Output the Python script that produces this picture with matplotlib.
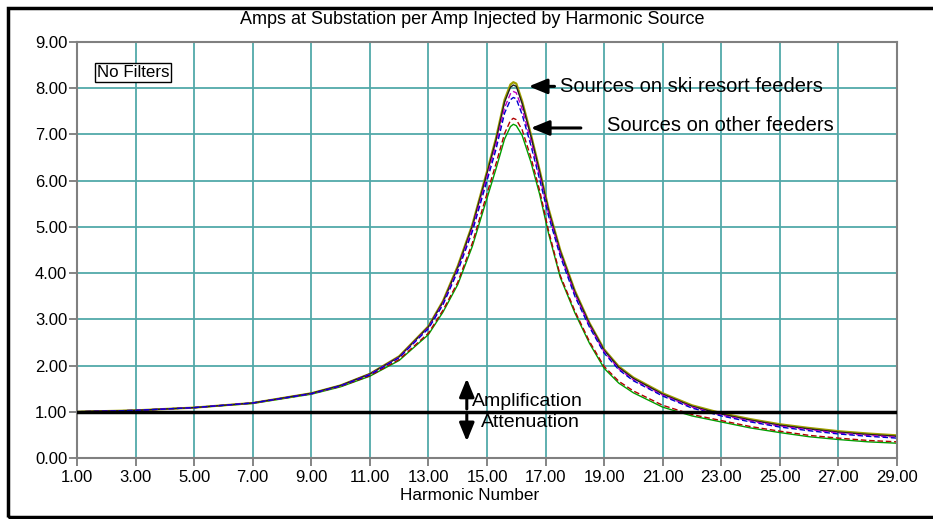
import numpy as np
import matplotlib.pyplot as plt
from matplotlib.patches import Rectangle

plt.rcParams['font.family'] = ['Liberation Sans', 'DejaVu Sans']

# harmonic numbers where the curves were read
harm = [1, 3, 5, 7, 9, 10, 11, 12, 13, 13.5, 14, 14.5, 15, 15.3, 15.6, 15.8, 15.9, 16.0,
        16.2, 16.5, 16.8, 17.1, 17.5, 18, 18.5, 19, 19.5, 20, 21, 22, 23, 24, 25, 26, 27, 28, 29]

# sources on ski resort feeders
ski_olive = [1.00, 1.03, 1.09, 1.19, 1.40, 1.57, 1.82, 2.20, 2.85, 3.40, 4.15, 5.05, 6.20, 6.90, 7.75, 8.08, 8.13, 8.10,
             7.72, 7.00, 6.22, 5.40, 4.50, 3.62, 2.92, 2.35, 1.98, 1.74, 1.40, 1.14, 0.97, 0.84, 0.73, 0.65, 0.58, 0.53, 0.49]
ski_black = [1.00, 1.03, 1.09, 1.19, 1.40, 1.57, 1.82, 2.19, 2.84, 3.38, 4.12, 5.02, 6.16, 6.86, 7.70, 8.02, 8.07, 8.04,
             7.67, 6.96, 6.18, 5.36, 4.47, 3.59, 2.90, 2.33, 1.96, 1.72, 1.38, 1.12, 0.95, 0.82, 0.71, 0.63, 0.56, 0.51, 0.47]
ski_magenta = [1.00, 1.03, 1.09, 1.19, 1.39, 1.56, 1.81, 2.18, 2.82, 3.35, 4.08, 4.96, 6.08, 6.76, 7.58, 7.88, 7.93, 7.90,
               7.55, 6.86, 6.10, 5.30, 4.42, 3.54, 2.86, 2.30, 1.93, 1.69, 1.36, 1.10, 0.93, 0.80, 0.69, 0.61, 0.54, 0.49, 0.45]
ski_blue = [1.00, 1.03, 1.09, 1.19, 1.39, 1.56, 1.80, 2.17, 2.80, 3.32, 4.04, 4.90, 6.00, 6.66, 7.46, 7.75, 7.80, 7.77,
            7.43, 6.76, 6.02, 5.24, 4.37, 3.50, 2.83, 2.27, 1.91, 1.67, 1.34, 1.08, 0.91, 0.78, 0.67, 0.59, 0.52, 0.47, 0.43]
# sources on other feeders
oth_red = [1.00, 1.03, 1.09, 1.19, 1.39, 1.55, 1.78, 2.13, 2.70, 3.20, 3.80, 4.65, 5.72, 6.35, 7.02, 7.30, 7.35, 7.32,
           7.10, 6.50, 5.78, 4.92, 3.95, 3.18, 2.52, 1.98, 1.66, 1.45, 1.14, 0.94, 0.81, 0.68, 0.58, 0.49, 0.43, 0.38, 0.35]
oth_green = [1.00, 1.03, 1.09, 1.18, 1.38, 1.54, 1.77, 2.11, 2.67, 3.16, 3.75, 4.58, 5.62, 6.24, 6.90, 7.17, 7.22, 7.19,
             6.98, 6.40, 5.70, 4.86, 3.91, 3.14, 2.48, 1.94, 1.62, 1.41, 1.10, 0.91, 0.78, 0.65, 0.55, 0.46, 0.40, 0.35, 0.32]

xticks = np.arange(1, 30, 2)
yticks = np.arange(0, 10, 1)

fig = plt.figure(figsize=(9.33, 5.19), dpi=100)
ax = fig.add_axes([77/933, 61/519, 820/933, 416/519])

ax.grid(True, color='#52a9a9', lw=1.3)
ax.set_axisbelow(True)

ax.plot(harm, oth_green, color='#00a000', lw=1.0)
ax.plot(harm, oth_red, color='#b00000', lw=1.0, ls=(0, (4, 2)))
ax.plot(harm, ski_olive, color='#a0a000', lw=1.6)
ax.plot(harm, ski_black, color='#202020', lw=1.0)
ax.plot(harm, ski_magenta, color='#c000c0', lw=1.0, ls=(0, (4, 2)))
ax.plot(harm, ski_blue, color='#0000d0', lw=1.0, ls=(0, (4, 2)))

ax.axhline(1.0, color='black', lw=2.5, zorder=5)

ax.set_xlim(1, 29)
ax.set_ylim(0, 9)
ax.set_xticks(xticks)
ax.set_yticks(yticks)
ax.set_xticklabels([f'{v:.2f}' for v in xticks])
ax.set_yticklabels([f'{v:.2f}' for v in yticks])
ax.tick_params(direction='out', length=6, width=1.2, color='#707070', labelsize=12, pad=1)
ax.tick_params(axis='x', pad=3)
for s in ax.spines.values():
    s.set_color('#808080')
    s.set_linewidth(1.5)

fig.text(472/933, 1 - 19/519, 'Amps at Substation per Amp Injected by Harmonic Source',
         ha='center', va='center', fontsize=13)
fig.text(470/933, 1 - 495/519, 'Harmonic Number', ha='center', va='center', fontsize=12.3)

ax.text(1.68, 8.35, 'No Filters', fontsize=12.2, va='center', ha='left',
        bbox=dict(boxstyle='square,pad=0.12', fc='white', ec='black', lw=1))

arrow = dict(arrowstyle='-|>,head_length=1.1,head_width=0.45', color='black', lw=2.2)
ax.annotate('', xy=(16.33, 8.04), xytext=(17.4, 8.04), arrowprops=arrow)
ax.text(17.5, 8.04, 'Sources on ski resort feeders', fontsize=14.5, va='center', ha='left')
ax.annotate('', xy=(16.4, 7.14), xytext=(18.3, 7.14), arrowprops=arrow)
ax.text(19.1, 7.2, 'Sources on other feeders', fontsize=14.5, va='center', ha='left')

ax.annotate('', xy=(14.31, 1.78), xytext=(14.31, 1.0), arrowprops=arrow, zorder=6)
ax.annotate('', xy=(14.31, 0.30), xytext=(14.31, 1.0), arrowprops=arrow, zorder=6)
ax.text(14.5, 1.22, 'Amplification', fontsize=14, va='center', ha='left')
ax.text(14.8, 0.76, 'Attenuation', fontsize=14, va='center', ha='left')

fig.add_artist(Rectangle((8/933, 2/519), 1.05, 509/519, transform=fig.transFigure,
                         fill=False, ec='black', lw=2.5))

fig.savefig('out.png', dpi=100)
